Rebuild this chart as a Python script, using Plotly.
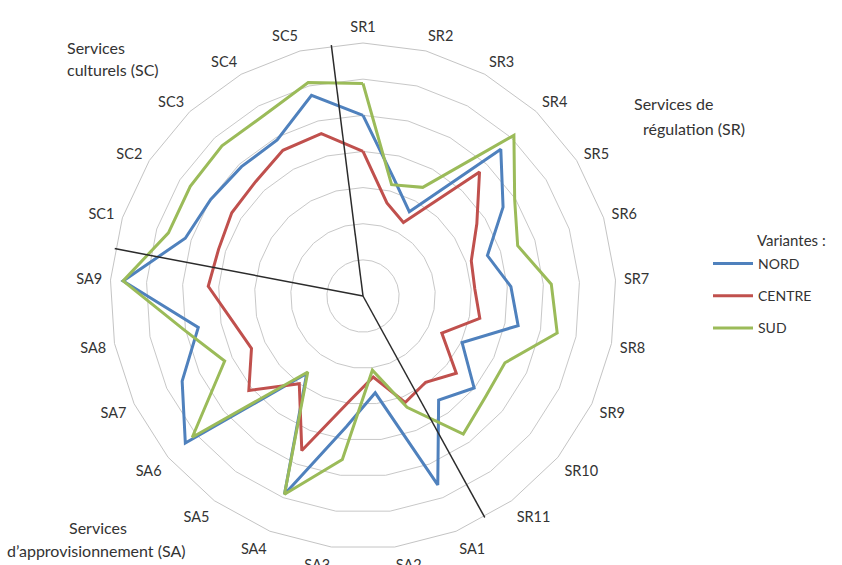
import plotly.graph_objects as go

categories = ["SR1", "SR2", "SR3", "SR4", "SR5", "SR6", "SR7", "SR8", "SR9", "SR10", "SR11",
              "SA1", "SA2", "SA3", "SA4", "SA5", "SA6", "SA7", "SA8", "SA9",
              "SC1", "SC2", "SC3", "SC4", "SC5"]
group_sizes = [11, 9, 5]  # SR, SA, SC

nord = [5.0, 3.38, 2.66, 5.57, 4.59, 3.62, 4.1, 4.37, 3.03, 3.99, 3.56,
        5.62, 2.7, 3.64, 5.9, 2.65, 6.38, 5.53, 4.64, 6.65,
        5.17, 4.99, 4.91, 4.93, 5.73]
centre = [4.0, 2.66, 2.32, 4.71, 3.73, 3.15, 3.1, 3.29, 2.41, 3.35, 2.95,
          3.17, 2.26, 2.92, 4.6, 3.0, 4.1, 3.41, 3.68, 4.29,
          4.2, 4.3, 4.34, 4.6, 4.64]
sud = [5.88, 3.18, 3.43, 6.1, 4.97, 4.5, 5.22, 5.47, 4.34, 4.39, 4.72,
       3.31, 2.07, 4.56, 5.9, 2.6, 6.13, 4.23, 5.03, 6.65,
       5.66, 5.66, 5.7, 5.7, 6.1]

series = [("NORD", nord, "#4F81BD"), ("CENTRE", centre, "#C0504D"), ("SUD", sud, "#9BBB59")]
r_max = 7

W, H = 842, 565
cx, cy, R = 363, 296, 253
dom_x = [(cx - R) / W, (cx + R) / W]
dom_y = [1 - (cy + R) / H, 1 - (cy - R) / H]

font_family = "Lato, 'Open Sans', sans-serif"
txt_color = "#333333"

fig = go.Figure()
for name, vals, color in series:
    fig.add_trace(go.Scatterpolar(
        r=vals + [vals[0]], theta=categories + [categories[0]],
        mode="lines", name=name, legendgroup=name,
        line=dict(color=color, width=3), subplot="polar"))

# dividing lines between the service groups
step = 360 / len(categories)
cum = 0
for n in group_sizes:
    cum += n
    ang = (cum - 0.5) * step
    fig.add_trace(go.Scatterpolar(
        r=[0, r_max], theta=[ang, ang], mode="lines",
        line=dict(color="#2b2b2b", width=1.5), showlegend=False,
        hoverinfo="skip", subplot="polar2"))

fig.update_layout(
    width=W, height=H,
    margin=dict(l=0, r=0, t=0, b=0),
    paper_bgcolor="white",
    font=dict(family=font_family, color=txt_color, size=14),
    polar=dict(
        domain=dict(x=dom_x, y=dom_y),
        bgcolor="white",
        gridshape="linear",
        angularaxis=dict(type="category", direction="clockwise", rotation=90,
                         showgrid=False, showline=True, linecolor="#c4c4c4", linewidth=1,
                         ticks="outside", ticklen=5, tickcolor="rgba(0,0,0,0)",
                         tickfont=dict(size=14.5, color=txt_color, family=font_family)),
        radialaxis=dict(range=[0, r_max], dtick=1, showticklabels=False, ticks="",
                        showline=False, gridcolor="#c8c8c8", gridwidth=1),
    ),
    polar2=dict(
        domain=dict(x=dom_x, y=dom_y),
        bgcolor="rgba(0,0,0,0)",
        angularaxis=dict(visible=False, direction="clockwise", rotation=90, thetaunit="degrees"),
        radialaxis=dict(visible=False, range=[0, r_max]),
    ),
    legend=dict(x=708 / W, y=1 - 248 / H, xanchor="left", yanchor="top",
                itemwidth=40,
                font=dict(size=14, color=txt_color, family=font_family),
                tracegroupgap=11, bgcolor="rgba(0,0,0,0)"),
    showlegend=True,
)

def ann(text, x, y, size=16, xanchor="left"):
    fig.add_annotation(text=text, x=x / W, y=1 - y / H, xref="paper", yref="paper",
                       xanchor=xanchor, yanchor="middle", showarrow=False,
                       font=dict(size=size, color=txt_color, family=font_family))

ann("Variantes :", 755, 240, size=15)
ann("Services", 65, 47)
ann("culturels (SC)", 65, 70)
ann("Services de", 632, 103)
ann("régulation (SR)", 641, 128)
ann("Services", 67, 527)
ann("d’approvisionnement (SA)", 5, 550)

fig.write_html("out.html", config={"displayModeBar": False},
               post_script="document.body.style.margin='0px';")
